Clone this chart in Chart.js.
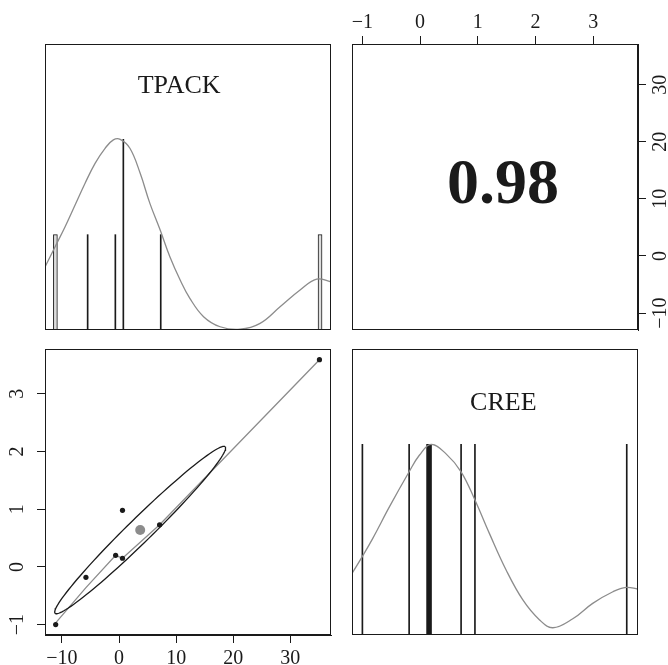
<!DOCTYPE html>
<html>
<head>
<meta charset="utf-8">
<title>TPACK / CREE</title>
<script src="https://cdn.jsdelivr.net/npm/chart.js@4.4.1/dist/chart.umd.min.js"></script>
<style>
  html, body { margin: 0; padding: 0; background: #fff; overflow: hidden; }
  #wrap { position: relative; width: 668px; height: 665px; }
  #wrap canvas { position: absolute; left: 0; top: 0; }
</style>
</head>
<body>
<div id="wrap">
  <canvas id="tl" width="668" height="665"></canvas>
  <canvas id="tr" width="668" height="665"></canvas>
  <canvas id="bl" width="668" height="665"></canvas>
  <canvas id="br" width="668" height="665"></canvas>
</div>
<script>
// paired observations
const tpack = [-11.1, -5.8, -0.6, 0.6, 0.6, 7.1, 35.1];
const cree = [-1.0, -0.18, 0.2, 0.15, 0.98, 0.73, 3.59];
const corrR = 0.98;
const corrText = '0.98';
const varNames = ['TPACK', 'CREE'];

// axis ranges and ticks
const tpackLim = [-12.97, 37.12];
const creeLim = [-1.18, 3.775];
const tpackTicks = [-10, 0, 10, 20, 30];
const creeTicks = [-1, 0, 1, 2, 3];

// histograms (count per bin, scaled to max later)
const tpackHistX = [-11.15, -5.5, -0.65, 0.75, 7.3, 35.2];
const tpackHistCount = [1, 1, 1, 2, 1, 1];
const creeHistX = [-1.0, -0.19, 0.135, 0.175, 0.71, 0.95, 3.58];
const creeHistCount = [1, 1, 1, 1, 1, 1, 1];

// density curves (scaled so the peak is 1)
const tpackDensX = [-12.95, -11.2, -9.45, -7.7, -5.95, -4.2, -2.45, -1.0, 0.2, 1.9, 3.7, 5.4, 7.2, 8.9, 10.7, 12.4, 14.8, 17.7, 21.2, 24.7, 28.2, 31.7, 34.6, 37.1];
const tpackDensY = [0.332, 0.437, 0.542, 0.656, 0.77, 0.874, 0.953, 0.997, 1.0, 0.953, 0.822, 0.664, 0.524, 0.384, 0.262, 0.166, 0.07, 0.017, 0.004, 0.035, 0.122, 0.21, 0.267, 0.253];
const creeDensX = [-1.18, -1.005, -0.82, -0.53, -0.19, -0.01, 0.19, 0.45, 0.71, 0.95, 1.2, 1.49, 1.78, 2.07, 2.3, 2.645, 2.99, 3.34, 3.57, 3.775];
const creeDensY = [0.323, 0.41, 0.507, 0.673, 0.856, 0.944, 1.0, 0.95, 0.856, 0.708, 0.533, 0.341, 0.184, 0.079, 0.038, 0.085, 0.166, 0.227, 0.25, 0.24];

// lowess smooth through the scatter
const smoothX = [-11.1, -5.8, -0.6, 0.6, 7.1, 35.1];
const smoothY = [-0.97, -0.36, 0.2, 0.15, 0.73, 3.59];

const GRAY = '#8c8c8c';
const INK = '#1a1a1a';
const FONT = "'Liberation Serif', 'DejaVu Serif', serif";

const toXY = (xs, ys) => xs.map((x, i) => ({ x: x, y: ys[i] }));
const minus = v => String(v).replace('-', '\u2212');
const mean = a => a.reduce((s, v) => s + v, 0) / a.length;
const sd = a => { const m = mean(a); return Math.sqrt(a.reduce((s, v) => s + (v - m) * (v - m), 0) / (a.length - 1)); };

// psych-style correlation ellipse around the means
function corrEllipse(xs, ys, r) {
    const mx = mean(xs), my = mean(ys), sx = sd(xs), sy = sd(ys);
    const a = Math.sqrt(1 + r), b = Math.sqrt(1 - r), t = 1 / Math.sqrt(2);
    const pts = [];
    for (let i = 0; i <= 120; i++) {
        const ang = i * 2 * Math.PI / 120;
        const c = Math.cos(ang), s = Math.sin(ang);
        pts.push({ x: (a * t * c - b * t * s) * sx + mx, y: (a * t * c + b * t * s) * sy + my });
    }
    return pts;
}

// frame + panel text
const panelFrame = {
    id: 'panelFrame',
    afterDraw(chart, args, opts) {
        const { ctx, chartArea: a } = chart;
        ctx.save();
        ctx.strokeStyle = INK;
        ctx.lineWidth = 1;
        ctx.strokeRect(Math.round(a.left) + 0.5, Math.round(a.top) + 0.5,
            Math.round(a.right - a.left) - 1, Math.round(a.bottom - a.top) - 1);
        if (opts.text) {
            ctx.fillStyle = INK;
            ctx.font = opts.font;
            ctx.textAlign = 'center';
            ctx.textBaseline = 'middle';
            ctx.fillText(opts.text, a.left + opts.fx * (a.right - a.left), a.top + opts.fy * (a.bottom - a.top));
        }
        ctx.restore();
    }
};
Chart.register(panelFrame);

const baseOpts = {
    responsive: false,
    animation: false,
    devicePixelRatio: 1,
    events: [],
    plugins: { legend: { display: false }, tooltip: { enabled: false } }
};

function axis(lim, ticks, position, size, pad, rotate) {
    return {
        type: 'linear',
        position: position,
        min: lim[0],
        max: lim[1],
        offset: false,
        afterBuildTicks: s => { s.ticks = ticks.map(v => ({ value: v })); },
        afterFit: s => {
            if (position === 'top' || position === 'bottom') s.height = size;
            else s.width = size;
        },
        grid: { drawOnChartArea: false, drawTicks: true, tickLength: 8, color: INK, lineWidth: 1 },
        border: { display: true, color: INK },
        ticks: {
            color: INK,
            font: { family: FONT, size: 20 },
            padding: pad,
            autoSkip: false,
            minRotation: rotate ? 90 : 0,
            maxRotation: rotate ? 90 : 0,
            crossAlign: rotate ? 'center' : 'near',
            callback: v => minus(v)
        }
    };
}

function histDatasets(xs, counts, wideIdx, wideStyle) {
    const top = Math.max(...counts);
    const narrow = [], wide = [];
    xs.forEach((x, i) => (wideIdx.includes(i) ? wide : narrow).push({ x: x, y: counts[i] / top }));
    return [
        { type: 'bar', data: narrow, barThickness: 1, backgroundColor: INK, borderWidth: 0, grouped: false, order: 2 },
        Object.assign({ type: 'bar', data: wide, grouped: false, order: 2 }, wideStyle)
    ];
}

function diagChart(id, xs, counts, wideIdx, wideStyle, densX, densY, lim, pad, label) {
    return new Chart(document.getElementById(id), {
        type: 'bar',
        data: {
            datasets: [
                { type: 'line', data: toXY(densX, densY), borderColor: GRAY, borderWidth: 1.3,
                  pointRadius: 0, tension: 0.4, fill: false, order: 1 }
            ].concat(histDatasets(xs, counts, wideIdx, wideStyle))
        },
        options: Object.assign({}, baseOpts, {
            layout: { padding: pad },
            scales: {
                x: { type: 'linear', min: lim[0], max: lim[1], offset: false, display: false },
                y: { type: 'linear', min: 0, max: 1.5, display: false }
            },
            plugins: Object.assign({}, baseOpts.plugins, { panelFrame: label })
        })
    });
}

// TPACK diagonal
diagChart('tl', tpackHistX, tpackHistCount, [0, 5],
    { barThickness: 4, backgroundColor: '#dcdcdc', borderColor: INK, borderWidth: 1, borderSkipped: false },
    tpackDensX, tpackDensY, tpackLim,
    { left: 45, top: 44, right: 337, bottom: 335 },
    { text: varNames[0], font: '26px ' + FONT, fx: 0.469, fy: 0.146 });

// CREE diagonal
diagChart('br', creeHistX, creeHistCount, [2, 3],
    { barThickness: 2.6, backgroundColor: INK, borderWidth: 0 },
    creeDensX, creeDensY, creeLim,
    { left: 352, top: 349, right: 30, bottom: 30 },
    { text: varNames[1], font: '26px ' + FONT, fx: 0.529, fy: 0.19 });

// correlation panel
new Chart(document.getElementById('tr'), {
    type: 'scatter',
    data: { datasets: [{ data: [] }] },
    options: Object.assign({}, baseOpts, {
        layout: { padding: { left: 352, top: 0, right: 0, bottom: 335 } },
        scales: {
            x: axis(creeLim, creeTicks, 'top', 44, 1, false),
            y: axis(tpackLim, tpackTicks, 'right', 30, -1, true)
        },
        plugins: Object.assign({}, baseOpts.plugins, {
            panelFrame: { text: corrText, font: 'bold 64px ' + FONT, fx: 0.528, fy: 0.497 }
        })
    })
});

// scatter panel
new Chart(document.getElementById('bl'), {
    type: 'scatter',
    data: {
        datasets: [
            { data: toXY(tpack, cree), pointRadius: 2.6, backgroundColor: INK, borderWidth: 0 },
            { data: [{ x: mean(tpack), y: mean(cree) }], pointRadius: 5, backgroundColor: GRAY, borderWidth: 0 },
            { data: corrEllipse(tpack, cree, corrR), showLine: true, borderColor: INK, borderWidth: 1.3, pointRadius: 0, tension: 0 },
            { data: toXY(smoothX, smoothY), showLine: true, borderColor: GRAY, borderWidth: 1.3, pointRadius: 0, tension: 0 }
        ]
    },
    options: Object.assign({}, baseOpts, {
        layout: { padding: { left: 0, top: 349, right: 337, bottom: 0 } },
        scales: {
            x: axis(tpackLim, tpackTicks, 'bottom', 30, 4, false),
            y: axis(creeLim, creeTicks, 'left', 45, 9, true)
        },
        plugins: Object.assign({}, baseOpts.plugins, { panelFrame: {} })
    })
});
</script>
</body>
</html>
